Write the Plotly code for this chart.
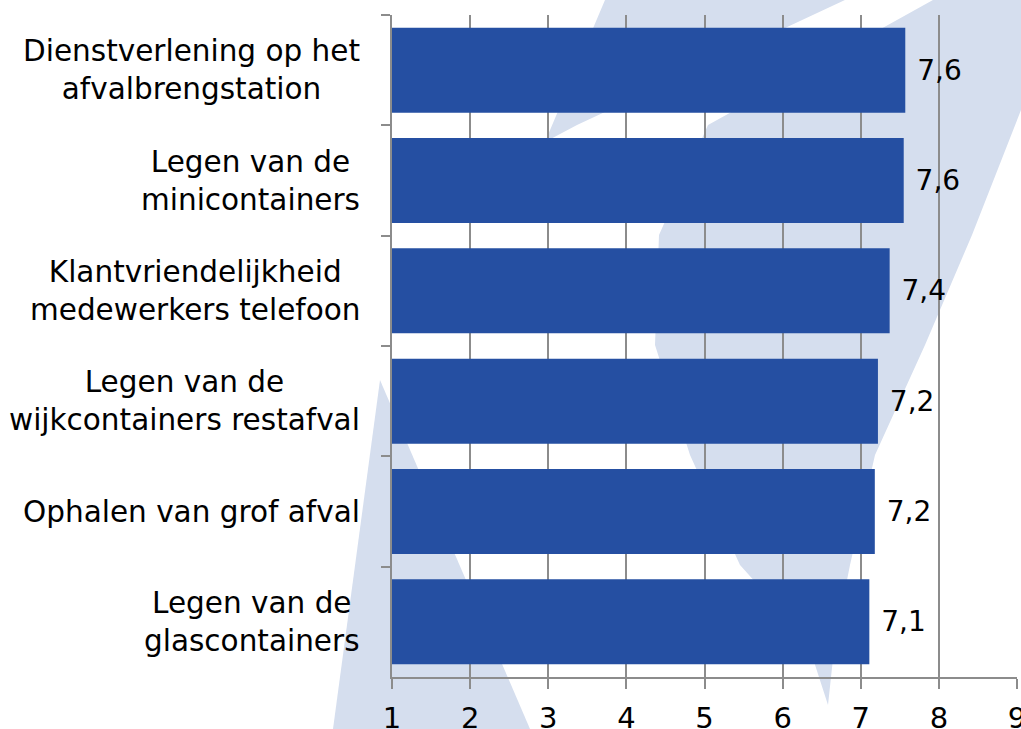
import plotly.graph_objects as go

# ---- data ----
categories = [
    "Dienstverlening op het<br>afvalbrengstation",
    "Legen van de<br>minicontainers",
    "Klantvriendelijkheid<br>medewerkers telefoon",
    "Legen van de<br>wijkcontainers restafval",
    "Ophalen van grof afval",
    "Legen van de<br>glascontainers",
]
scores = [7.57, 7.55, 7.37, 7.22, 7.18, 7.11]
score_labels = ["7,6", "7,6", "7,4", "7,2", "7,2", "7,1"]
x_ticks = [1, 2, 3, 4, 5, 6, 7, 8, 9]

# ---- styling ----
W, H = 1021, 729
ML, MR, MT, MB = 392, 4, 15, 52
PW, PH = W - ML - MR, H - MT - MB
FONT = "DejaVu Sans"
BAR = "#254FA2"
GRID = "#8c8c8c"
SWOOSH = "#d5deee"


def px_path(points):
    pts = [f"{(x - ML) / PW:.4f},{(H - MB - y) / PH:.4f}" for x, y in points]
    return "M " + " L ".join(pts) + " Z"


crescent = [(933, 0), (1021, 0), (1021, 110), (972, 235), (925, 345), (875, 455),
            (850, 565), (835, 640), (828, 705), (807, 640), (740, 565), (690, 455),
            (655, 345), (659, 235), (708, 125)]
stripe = [(605, 0), (845, 0), (577, 125), (545, 142)]
wedge = [(380, 380), (530, 729), (333, 729)]

shapes = [
    dict(type="path", xref="paper", yref="paper", path=px_path(p),
         fillcolor=SWOOSH, line=dict(width=0), layer="below")
    for p in (crescent, stripe, wedge)
]

fig = go.Figure()
fig.add_trace(go.Bar(
    x=scores, y=categories, orientation="h",
    marker=dict(color=BAR, line=dict(width=0)),
    width=0.77,
    text=["\u00a0" + s for s in score_labels],
    textposition="outside", constraintext="none", cliponaxis=False,
    textfont=dict(family=FONT, size=28, color="black"),
    hoverinfo="skip",
))

annotations = [
    dict(x=0, xref="paper", y=c, yref="y", xanchor="right", xshift=-30,
         text=c, showarrow=False, align="center",
         font=dict(family=FONT, size=29.5, color="black"))
    for c in categories
]

fig.update_layout(
    width=W, height=H,
    margin=dict(l=ML, r=MR, t=MT, b=MB, pad=0, autoexpand=False),
    paper_bgcolor="white", plot_bgcolor="rgba(0,0,0,0)",
    showlegend=False, shapes=shapes, annotations=annotations,
    font=dict(family=FONT, size=28, color="black"),
    xaxis=dict(range=[1, 9], tickvals=x_ticks, showgrid=True, gridcolor=GRID,
               gridwidth=2, showline=True, linecolor=GRID, linewidth=2,
               ticks="outside", ticklen=10, tickwidth=2, tickcolor=GRID,
               ticklabelstandoff=4, ticklabeloverflow="allow", automargin=False,
               zeroline=False, tickfont=dict(family=FONT, size=29, color="black")),
    yaxis=dict(autorange="reversed", showticklabels=False, ticks="outside",
               tickson="boundaries", ticklen=9, tickwidth=2, tickcolor=GRID,
               showline=True, linecolor=GRID, linewidth=2, showgrid=False,
               zeroline=False, automargin=False),
)

fig.write_html(
    "out.html",
    config={"displayModeBar": False},
    post_script="document.body.style.margin='0';document.body.style.overflow='hidden';",
)
